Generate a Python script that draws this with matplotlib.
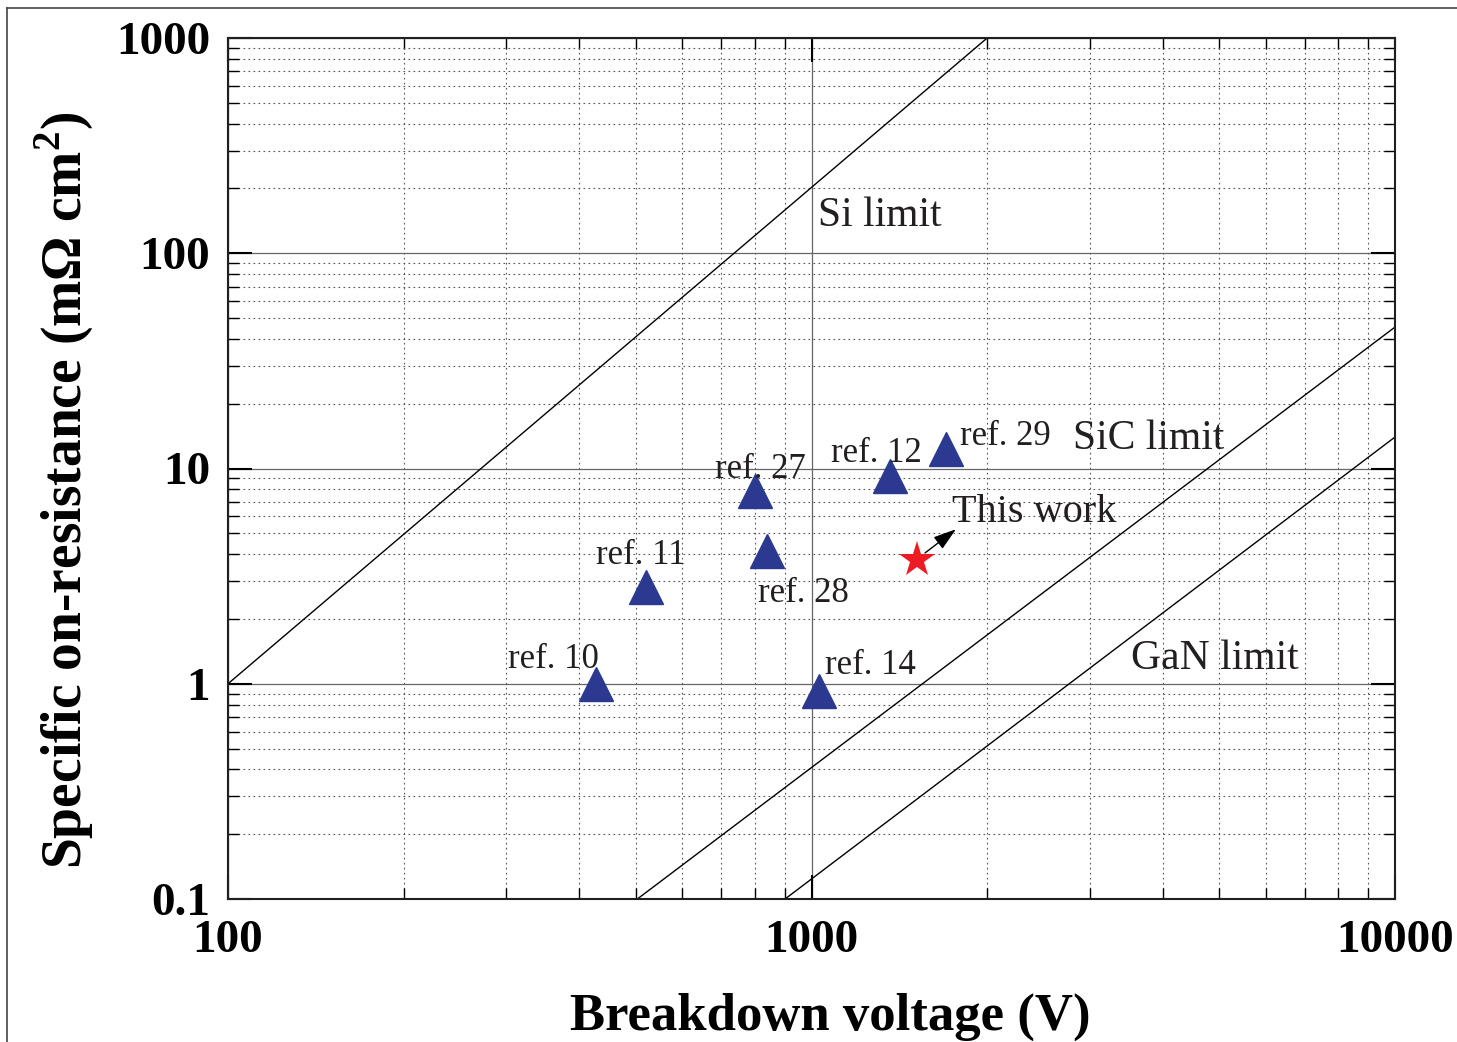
import matplotlib.pyplot as plt
from matplotlib.lines import Line2D

plt.rcParams['font.family'] = ['Liberation Serif', 'DejaVu Serif']
plt.rcParams['mathtext.fontset'] = 'custom'
plt.rcParams['mathtext.rm'] = 'Liberation Serif'
plt.rcParams['mathtext.bf'] = 'Liberation Serif:bold'

# limit lines (endpoints)
si_v = [100, 2000]
si_r = [1.0, 1000.0]
sic_v = [503, 10000]
sic_r = [0.1, 45.4]
gan_v = [901, 10000]
gan_r = [0.1, 14.0]

# reference devices
ref_names = ["ref. 10", "ref. 11", "ref. 27", "ref. 28", "ref. 14", "ref. 12", "ref. 29"]
ref_v = [428, 520, 800, 839, 1030, 1365, 1700]
ref_r = [1.0, 2.8, 7.9, 4.15, 0.93, 9.2, 12.3]
# label anchors (left, vertical center)
lab_v = [302, 428, 684, 809, 1054, 1080, 1797]
lab_r = [1.30, 3.95, 9.9, 2.62, 1.22, 11.7, 14.1]

this_v = [1517]
this_r = [3.76]

fig = plt.figure(figsize=(14.57, 10.42), dpi=100)
ax = fig.add_axes([228/1457, 1 - 899/1042, (1395-228)/1457, (899-38)/1042])
ax.set_xscale('log')
ax.set_yscale('log')
ax.set_xlim(100, 10000)
ax.set_ylim(0.1, 1000)

ax.grid(True, which='major', color='#666666', linewidth=0.9, linestyle='-')
ax.grid(True, which='minor', color='#555555', linewidth=0.8, linestyle=(0, (1.5, 3)))
ax.set_axisbelow(True)

ax.plot(si_v, si_r, color='black', lw=1.0)
ax.plot(sic_v, sic_r, color='black', lw=1.0)
ax.plot(gan_v, gan_r, color='black', lw=1.0)

ax.plot(ref_v, ref_r, '^', color='#2B3990', markersize=25, linestyle='none', zorder=5)
ax.plot(this_v, this_r, '*', color='#ED1C24', markersize=27, markeredgewidth=0, zorder=5)

for name, x, y in zip(ref_names, lab_v, lab_r):
    ax.text(x, y, name, fontsize=25, va='center', ha='left', color='#231F20', zorder=6)

ax.text(1026, 150, "Si limit", fontsize=30, va='center', ha='left', color='#231F20')
ax.text(2805, 13.8, "SiC limit", fontsize=30, va='center', ha='left', color='#231F20')
ax.text(3532, 1.31, "GaN limit", fontsize=30, va='center', ha='left', color='#231F20')
ax.text(1741, 6.25, "This work", fontsize=29, va='center', ha='left', color='#231F20')
ax.annotate("", xy=(1768, 5.22), xytext=(1565, 4.05),
            arrowprops=dict(arrowstyle='-|>,head_length=1.4,head_width=0.45',
                            color='black', lw=1.0, shrinkA=0, shrinkB=0))

ax.set_xticks([100, 1000, 10000])
ax.set_xticklabels(["100", "1000", "10000"])
ax.set_yticks([0.1, 1, 10, 100, 1000])
ax.set_yticklabels(["0.1", "1", "10", "100", "1000"])
ax.tick_params(which='both', direction='in', top=True, right=True)
ax.tick_params(which='major', length=17, width=1.5, labelsize=34)
ax.tick_params(axis='x', which='major', pad=15)
ax.tick_params(axis='y', which='major', pad=13)
ax.tick_params(which='minor', length=8, width=1.0)
for lab in ax.get_xticklabels() + ax.get_yticklabels():
    lab.set_fontweight('bold')
for s in ax.spines.values():
    s.set_linewidth(1.5)
    s.set_color('#231F20')

ax.set_xlabel("Breakdown voltage (V)", fontsize=38, fontweight='bold', labelpad=22, x=0.516)
ax.set_ylabel(r"Specific on-resistance (m$\mathbf{\Omega}$ cm$^{\mathbf{2}}$)", fontsize=40,
              fontweight='bold', labelpad=14, y=0.475)

# outer frame (top and left edges)
fig.add_artist(Line2D([7/1457, 7/1457], [0, 1 - 8/1042], color='#444444', lw=1.2))
fig.add_artist(Line2D([7/1457, 1], [1 - 8/1042, 1 - 8/1042], color='#444444', lw=1.2))

fig.savefig("out.png", dpi=100)
